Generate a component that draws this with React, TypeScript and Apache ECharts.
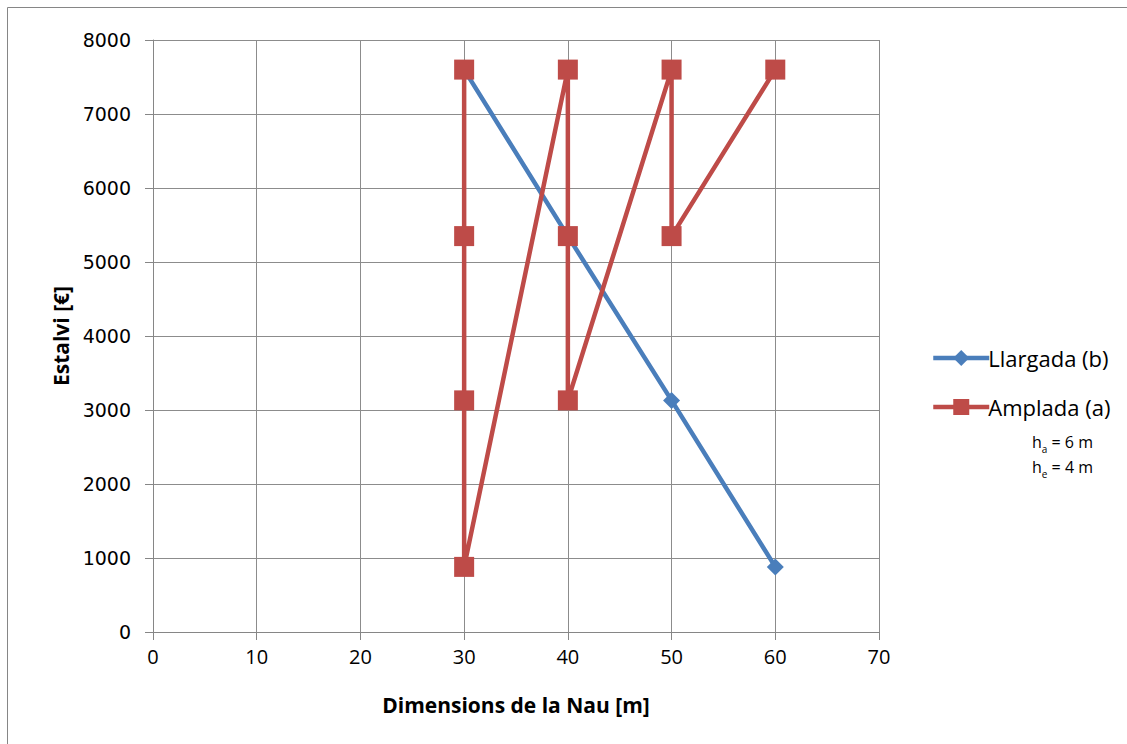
import React, { useEffect, useRef } from "react";
import * as echarts from "echarts";

const xTicks = [0, 10, 20, 30, 40, 50, 60, 70];
const llargadaX = [30, 40, 50, 60];
const llargadaY = [7600, 5350, 3130, 880];
const ampladaX = [30, 30, 30, 30, 40, 40, 40, 50, 50, 60];
const ampladaY = [7600, 5350, 3130, 880, 7600, 5350, 3130, 7600, 5350, 7600];
const seriesNames = ["Llargada (b)", "Amplada (a)"];
const colors = ["#4a7ebb", "#be4b48"];

export default function App() {
  const ref = useRef<HTMLDivElement>(null);
  useEffect(() => {
    const chart = echarts.init(ref.current!, null, { renderer: "svg" });
    const narrow = "'Open Sans', sans-serif";
    chart.setOption({
      animation: false,
      backgroundColor: "#fff",
      grid: { left: 153, right: 248, top: 40, bottom: 112 },
      xAxis: {
        type: "value",
        min: xTicks[0],
        max: xTicks[xTicks.length - 1],
        interval: 10,
        name: "Dimensions de la Nau [m]",
        nameLocation: "middle",
        nameGap: 62,
        nameTextStyle: { fontSize: 21, fontWeight: "bold", color: "#000", fontFamily: narrow },
        axisLine: { show: true, onZero: false, lineStyle: { color: "#868686", width: 1 } },
        axisTick: { show: true, length: 8, lineStyle: { color: "#868686" } },
        axisLabel: { fontSize: 20, color: "#000", margin: 14, fontFamily: narrow },
        splitLine: { show: true, lineStyle: { color: "#8c8c8c", width: 1 } },
      },
      yAxis: {
        type: "value",
        min: 0,
        max: 8000,
        interval: 1000,
        name: "Estalvi [€]",
        nameLocation: "middle",
        nameGap: 82,
        nameRotate: 90,
        nameTextStyle: { fontSize: 21, fontWeight: "bold", color: "#000", fontFamily: narrow },
        axisLine: { show: true, onZero: false, lineStyle: { color: "#868686", width: 1 } },
        axisTick: { show: true, length: 8, lineStyle: { color: "#868686" } },
        axisLabel: {
          fontSize: 19,
          color: "#000",
          margin: 22,
          fontFamily: "'DejaVu Sans', Verdana, sans-serif",
          formatter: (v: number) => String(v),
        },
        splitLine: { show: true, lineStyle: { color: "#8c8c8c", width: 1 } },
      },
      legend: {
        orient: "vertical",
        left: 926,
        top: 342,
        itemWidth: 56,
        itemHeight: 20,
        itemGap: 27,
        lineStyle: { width: 4.5 },
        textStyle: { fontSize: 22, color: "#000", fontFamily: narrow, padding: [0, 0, 0, -6] },
        data: seriesNames,
      },
      graphic: [
        {
          type: "rect",
          shape: { x: 7.5, y: 7.5, width: 1130, height: 750 },
          style: { fill: "none", stroke: "#868686", lineWidth: 1 },
          silent: true,
        },
        {
          type: "text",
          left: 1032,
          top: 434,
          style: {
            text: "{a|h}{s|a}{a| = 6 m}\n{a|h}{s|e}{a| = 4 m}",
            rich: {
              a: { fontSize: 16, fontFamily: narrow, fill: "#000", lineHeight: 25, verticalAlign: "bottom" },
              s: { fontSize: 10, fontFamily: narrow, fill: "#000", lineHeight: 25, verticalAlign: "bottom", padding: [0, 0, -4, 0] },
            },
          },
        },
      ],
      series: [
        {
          name: seriesNames[0],
          type: "line",
          data: llargadaX.map((x, i) => [x, llargadaY[i]]),
          symbol: "diamond",
          symbolSize: 17,
          lineStyle: { color: colors[0], width: 4.5 },
          itemStyle: { color: colors[0] },
          z: 2,
        },
        {
          name: seriesNames[1],
          type: "line",
          data: ampladaX.map((x, i) => [x, ampladaY[i]]),
          symbol: "rect",
          symbolSize: 20,
          lineStyle: { color: colors[1], width: 4.5 },
          itemStyle: { color: colors[1] },
          z: 3,
        },
      ],
    });
    return () => chart.dispose();
  }, []);
  return (
    <div
      ref={ref}
      style={{ position: "absolute", left: 0, top: 0, width: 1127, height: 744 }}
    />
  );
}
